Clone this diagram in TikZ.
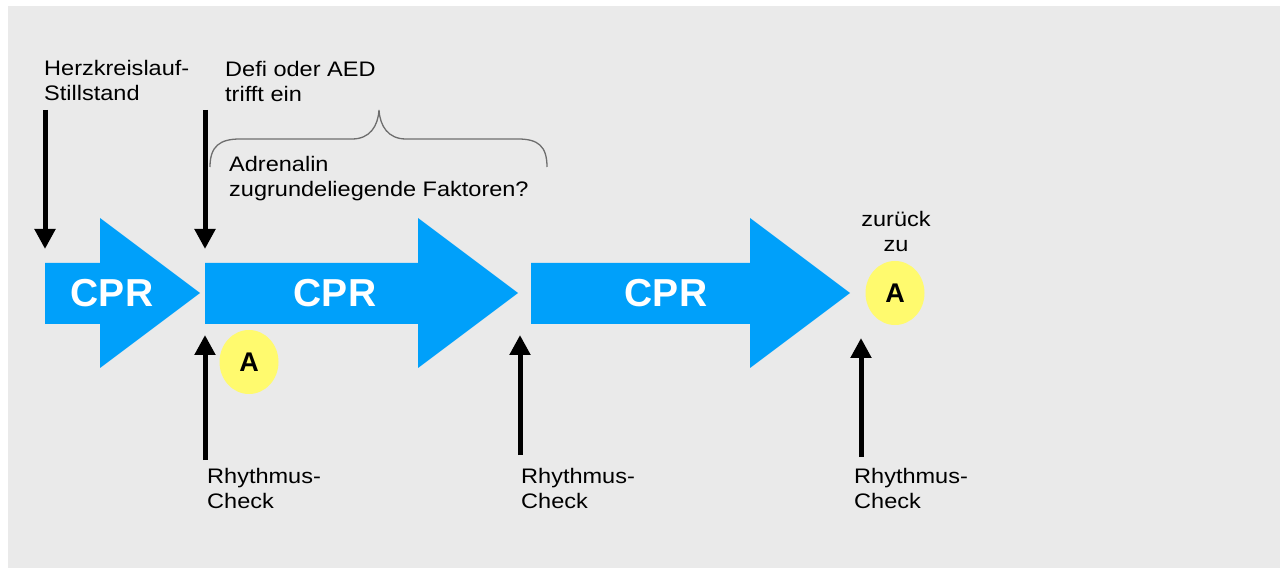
\documentclass[tikz,border=0pt]{standalone}
\usepackage{fontspec}
\setmainfont{Liberation Sans}
\newfontfamily\lblfont[FakeStretch=1.12]{Liberation Sans}
\usetikzlibrary{arrows.meta,shapes.geometric}
\definecolor{bgc}{RGB}{234,234,234}
\definecolor{cprblue}{RGB}{0,160,250}
\definecolor{ayellow}{RGB}{255,250,110}
\definecolor{bracec}{RGB}{110,110,110}
\newcommand{\lblsize}{\lblfont\fontsize{21}{25}\selectfont}
\tikzset{
  lbl/.style={inner sep=0pt, font=\lblsize, text=black},
  cprtext/.style={inner sep=0pt, font=\fontsize{39}{44}\selectfont\bfseries, text=white},
  acircle/.style={ellipse, fill=ayellow, inner sep=0pt, minimum width=#1, font=\fontsize{27}{30}\selectfont\bfseries},
  blockarrow/.style={fill=cprblue, draw=none},
  evarrow/.style={line width=5pt, -{Triangle[length=20pt,width=20pt]}},
  bracestyle/.style={draw=bracec, line width=1.3pt}
}
\begin{document}
\begin{tikzpicture}[x=1pt,y=-1pt]
\useasboundingbox (0,0) rectangle (1283,569);
\fill[bgc] (8,6) rectangle (1280,568);

% block arrows
\fill[blockarrow] (45,263) -- (100,263) -- (100,218) -- (200,293) -- (100,368) -- (100,324) -- (45,324) -- cycle;
\fill[blockarrow] (205,263) -- (418,263) -- (418,218) -- (518,293) -- (418,368) -- (418,324) -- (205,324) -- cycle;
\fill[blockarrow] (531,263) -- (750,263) -- (750,218) -- (850,293) -- (750,368) -- (750,324) -- (531,324) -- cycle;
\node[cprtext] (cpr1) at (112,293) {CPR};
\node[cprtext] (cpr2) at (335,293) {CPR};
\node[cprtext] (cpr3) at (666,293) {CPR};

% A circles
\node[acircle=59pt, minimum height=64pt] (a1) at (249,362) {A};
\node[acircle=59pt, minimum height=64pt] (a2) at (895,293) {A};

% labels
\node[lbl, anchor=base west] (herz) at (44,76) {\lblsize\begin{tabular}[t]{@{}l@{}}Herzkreislauf-\\Stillstand\end{tabular}};
\node[lbl, anchor=base west] (defi) at (225,77) {\lblsize\begin{tabular}[t]{@{}l@{}}Defi oder AED\\trifft ein\end{tabular}};
\node[lbl, anchor=base west] (adr) at (229,172) {\lblsize\begin{tabular}[t]{@{}l@{}}Adrenalin\\zugrundeliegende Faktoren?\end{tabular}};
\node[lbl, anchor=base] (zur) at (896,227) {\lblsize\begin{tabular}[t]{@{}c@{}}zurück\\zu\end{tabular}};
\node[lbl, anchor=base west] (rc1) at (207,483) {\lblsize\begin{tabular}[t]{@{}l@{}}Rhythmus-\\Check\end{tabular}};
\node[lbl, anchor=base west] (rc2) at (521,483) {\lblsize\begin{tabular}[t]{@{}l@{}}Rhythmus-\\Check\end{tabular}};
\node[lbl, anchor=base west] (rc3) at (854,483) {\lblsize\begin{tabular}[t]{@{}l@{}}Rhythmus-\\Check\end{tabular}};

% event arrows
\coordinate (d1s) at (45,110);  \coordinate (d1e) at (45,249);
\coordinate (d2s) at (205,110); \coordinate (d2e) at (205,249);
\coordinate (u1s) at (205,460); \coordinate (u1e) at (205,335);
\coordinate (u2s) at (520,455); \coordinate (u2e) at (520,335);
\coordinate (u3s) at (861,457); \coordinate (u3e) at (861,338);
\draw[evarrow] (d1s) -- (d1e);
\draw[evarrow] (d2s) -- (d2e);
\draw[evarrow] (u1s) -- (u1e);
\draw[evarrow] (u2s) -- (u2e);
\draw[evarrow] (u3s) -- (u3e);

% brace
\coordinate (bl) at (210,167);
\coordinate (bt) at (379,110);
\coordinate (br) at (547,167);
\draw[bracestyle] (bl) .. controls (210,146) and (220,139) .. (240,139) -- (352,139)
  .. controls (370,139) and (378,126) .. (bt)
  .. controls (380,126) and (388,139) .. (406,139) -- (518,139)
  .. controls (538,139) and (547,146) .. (br);
\end{tikzpicture}
\end{document}
